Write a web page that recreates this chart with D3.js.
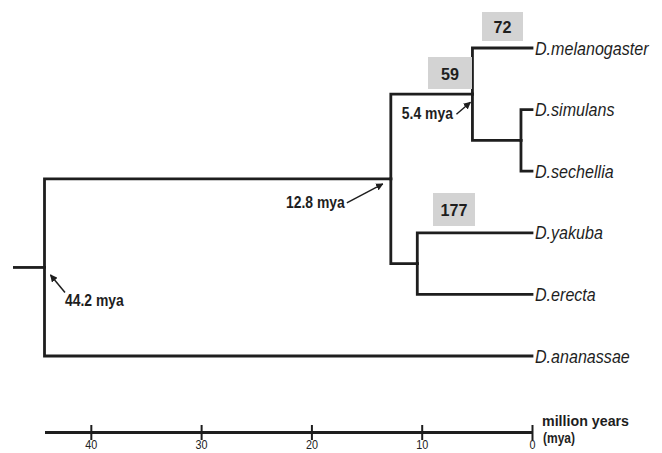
<!DOCTYPE html>
<html>
<head>
<meta charset="utf-8">
<title>Drosophila tree</title>
<script src="https://d3js.org/d3.v7.min.js"></script>
<style>
  body { margin: 0; background: #fff; }
  svg { display: block; }
  .tree path, .tree line { stroke: #1e1e1e; fill: none; }
</style>
</head>
<body>
<svg width="662" height="453"></svg>
<script>
// tree topology (row order = drawing order, top to bottom)
var nodeIds     = ["root", "A", "B", "D.melanogaster", "C", "D.simulans", "D.sechellia", "E", "D.yakuba", "D.erecta", "D.ananassae"];
var nodeParents = ["",     "root", "A", "B",           "B", "C",          "C",           "A", "E",        "E",        "root"];
var nodeAges    = [44.2,   12.8,  5.4,  0,             1.0,  0,            0,            10.4, 0,         0,          0];

// dated splits with arrows
var splitNodes  = ["root", "A", "B"];
var splitLabels = ["44.2 mya", "12.8 mya", "5.4 mya"];

// counts in grey boxes
var boxNodes  = ["D.melanogaster", "B", "D.yakuba"];
var boxValues = ["72", "59", "177"];

var tickValues = [40, 30, 20, 10, 0];

var svg = d3.select("svg");
var font = "'Liberation Sans', Arial, sans-serif";
var ink = "#1e1e1e";

var x = d3.scaleLinear().domain([44.2, 0]).range([44.5, 532]);
var y = d3.scaleLinear().domain([0, 5]).range([48, 356]);

// condensed-looking text: normal font squeezed horizontally
function label(x0, y0, str, size, sx, o) {
    o = o || {};
    return svg.append("text")
        .attr("transform", "translate(" + x0 + "," + y0 + ") scale(" + sx + ",1)")
        .attr("text-anchor", o.anchor || "start")
        .attr("font-family", font)
        .attr("font-weight", o.bold ? "bold" : "normal")
        .attr("font-style", o.italic ? "italic" : "normal")
        .attr("font-size", size)
        .attr("fill", ink)
        .text(str);
}

var rows = nodeIds.map(function (id, i) {
    return { id: id, parent: nodeParents[i], age: nodeAges[i] };
});
var root = d3.stratify().id(function (d) { return d.id; })
    .parentId(function (d) { return d.parent || null; })(rows);

// leaves get an index, internal nodes sit midway between first and last child
root.leaves().forEach(function (l, i) { l.py = y(i); });
root.eachAfter(function (n) {
    if (n.children) {
        n.py = (n.children[0].py + n.children[n.children.length - 1].py) / 2;
    }
    n.px = x(n.data.age);
});
var byId = {};
root.each(function (n) { byId[n.id] = n; });

var g = svg.append("g").attr("class", "tree");

// root stub
g.append("line")
    .attr("x1", 13).attr("x2", root.px)
    .attr("y1", root.py).attr("y2", root.py)
    .attr("stroke-width", 2.8);

// elbow links
g.selectAll("path.link")
    .data(root.links())
    .join("path")
    .attr("class", "link")
    .attr("stroke-width", 2.8)
    .attr("stroke-linecap", "square")
    .attr("d", function (l) {
        return "M" + l.source.px + "," + l.source.py +
               "V" + l.target.py + "H" + l.target.px;
    });

// species names
root.leaves().forEach(function (d) {
    label(d.px + 3, d.py + 6.5, d.id, 17.5, 0.92, { italic: true });
});

// grey count boxes
var boxLayout = [
    { left: 482, w: 41, top: 12, h: 29 },
    { left: 428, w: 44, top: 57, h: 32 },
    { left: 433, w: 42, top: 193, h: 33 }
];
boxNodes.forEach(function (id, i) {
    var b = boxLayout[i];
    svg.append("rect")
        .attr("x", b.left).attr("y", b.top)
        .attr("width", b.w).attr("height", b.h)
        .attr("fill", "#d3d3d3");
    label(b.left + b.w / 2, b.top + b.h / 2 + 6.5, boxValues[i], 17, 0.95, { bold: true, anchor: "middle" });
});

// arrows to dated splits
svg.append("defs").append("marker")
    .attr("id", "ah").attr("viewBox", "0 0 10 10")
    .attr("refX", 9).attr("refY", 5)
    .attr("markerWidth", 5).attr("markerHeight", 5)
    .attr("orient", "auto")
    .append("path").attr("d", "M0,0L10,5L0,10z").attr("fill", ink);

var arrowLayout = [
    { tip: [6, 7.5], tail: [20.5, 25], lx: 20.5, ly: 39, anchor: "start" },
    { tip: [-8, 5], tail: [-44, 24], lx: -46, ly: 29, anchor: "end" },
    { tip: [-2, 8], tail: [-16, 20], lx: -19.5, ly: 24.5, anchor: "end" }
];
splitNodes.forEach(function (id, i) {
    var n = byId[id], a = arrowLayout[i];
    svg.append("line")
        .attr("x1", n.px + a.tail[0]).attr("y1", n.py + a.tail[1])
        .attr("x2", n.px + a.tip[0]).attr("y2", n.py + a.tip[1])
        .attr("stroke", ink).attr("stroke-width", 1.5)
        .attr("marker-end", "url(#ah)");
    label(n.px + a.lx, n.py + a.ly, splitLabels[i], 17, 0.82, { bold: true, anchor: a.anchor });
});

// time axis
var axis = d3.axisBottom(x).tickValues(tickValues).tickSize(7).tickSizeOuter(0);
var ax = svg.append("g").attr("transform", "translate(0,432)").call(axis);
ax.select(".domain").attr("stroke", ink).attr("stroke-width", 2.8);
ax.selectAll(".tick line").attr("y1", -7).attr("y2", 8)
    .attr("stroke", ink).attr("stroke-width", 2);
ax.selectAll(".tick text")
    .attr("y", 8).attr("dy", "0.71em")
    .attr("transform", "scale(0.9,1)")
    .attr("font-family", font).attr("font-size", 12).attr("fill", "#222");

label(542, 426, "million years", 15, 0.95, { bold: true });
label(543, 443, "(mya)", 15, 0.8, { bold: true });
</script>
</body>
</html>
